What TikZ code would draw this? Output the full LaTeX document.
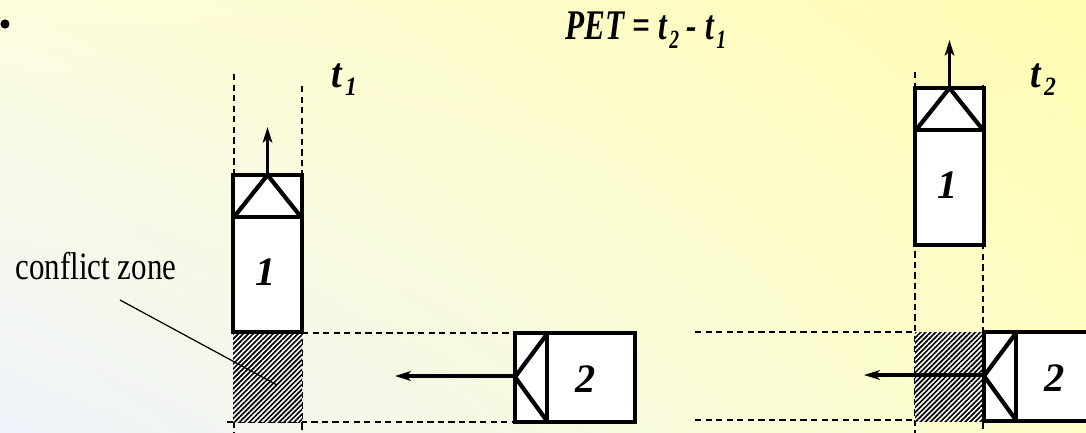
\documentclass[tikz,border=0pt]{standalone}
\usepackage{fontspec}
\setmainfont{Liberation Serif}
\usepackage{graphicx}
\usetikzlibrary{arrows.meta, patterns.meta, shadings, calc}

\definecolor{bgUL}{RGB}{253,253,222}
\definecolor{bgUR}{RGB}{255,252,178}
\definecolor{bgLL}{RGB}{238,243,251}
\definecolor{bgLR}{RGB}{255,255,200}

%-- the slide text is set narrow
\newcommand{\sq}[2][0.74]{\scalebox{#1}[1]{#2}}
\newcommand{\tsub}[1]{t\kern2pt\raisebox{-0.2em}{\fontsize{15}{16}\selectfont #1}}

\begin{document}
\begin{tikzpicture}[x=0.02cm, y=-0.02cm, >=Stealth,
  veh/.style={draw, fill=white, line width=2.5pt, line join=miter},
  nose/.style={line width=2.4pt},
  guide/.style={dash pattern=on 3.6pt off 2.4pt, line width=0.7pt},
  hatch/.style={pattern={Lines[angle=45, distance=2pt, line width=0.95pt]}},
  move/.style={line width=2.1pt, -{Stealth[length=9pt, width=5.5pt, inset=2.5pt]}},
  big/.style={font=\bfseries\itshape\fontsize{24}{26}\selectfont}]

%-- slide background
\shade[upper left=bgUL, upper right=bgUR, lower left=bgLL, lower right=bgLR]
  (0,0) rectangle (1086,433);
\useasboundingbox (0,0) rectangle (1086,433);
\clip (0,0) rectangle (1086,433);

\fill (5,24) circle (4.6);
\node[big] (pet) at (646,30) {\sq{PET = \tsub{2} - \tsub{1}}};

%-- guide lines, scene t1
\draw[guide] (234,74) -- (234,433);
\draw[guide] (302,86) -- (302,433);
\draw[guide] (302,333) -- (515,333);
\draw[guide] (227,422) -- (515,422);

%-- guide lines, scene t2
\draw[guide] (915,72) -- (915,433);
\draw[guide] (983,85) -- (983,433);
\draw[guide] (695,332) -- (915,332);
\draw[guide] (695,420) -- (915,420);

%-- both scenes: vehicle 1 at (\vx,\vy), vehicle 2 at (\wx,\wy)
\foreach \s/\vx/\vy/\wx/\wy in {a/233/175/515/333, b/915/88/984/332} {
  % conflict zone
  \fill[white] (\vx,\wy) rectangle (\vx+69,\wy+89);
  \fill[hatch] (\vx,\wy) rectangle (\vx+69,\wy+89);
  % vehicle 1, heading up
  \draw[veh] (\vx,\vy) rectangle (\vx+69,\vy+157);
  \draw[nose] (\vx,\vy+42) -- (\vx+69,\vy+42);
  \draw[nose] (\vx+1,\vy+42) -- (\vx+34.5,\vy) -- (\vx+68,\vy+42);
  \coordinate (n1\s) at (\vx+34.5,\vy);
  \coordinate (h1\s) at (\vx+34.5,\vy-48);
  \draw[move] (n1\s) -- (h1\s);
  \node[big, font=\bfseries\itshape\fontsize{23}{25}\selectfont] (one\s) at (\vx+33,\vy+97) {1};
  % vehicle 2, heading left
  \draw[veh] (\wx,\wy) rectangle (\wx+120,\wy+89);
  \draw[nose] (\wx+32,\wy) -- (\wx+32,\wy+89);
  \draw[nose] (\wx+32,\wy+1) -- (\wx,\wy+44) -- (\wx+32,\wy+88);
  \coordinate (n2\s) at (\wx,\wy+43);
  \coordinate (h2\s) at (\wx-120,\wy+43);
  \draw[move] (n2\s) -- (h2\s);
  \node[big, font=\bfseries\itshape\fontsize{23}{25}\selectfont] (two\s) at (\wx+71,\wy+46) {2};
}

%-- time labels
\node[big, anchor=base west, inner sep=0pt] (tone) at (331,87) {\sq[0.9]{\tsub{1}}};
\node[big, anchor=base west, inner sep=0pt] (ttwo) at (1030,87) {\sq[0.9]{\tsub{2}}};

%-- conflict zone label
\node[font=\fontsize{22}{24}\selectfont] (cz) at (96,266) {\sq[0.8]{conflict zone}};
\coordinate (czend) at (277,385);
\draw[line width=0.7pt] (120,300) -- (czend);

\end{tikzpicture}
\end{document}
